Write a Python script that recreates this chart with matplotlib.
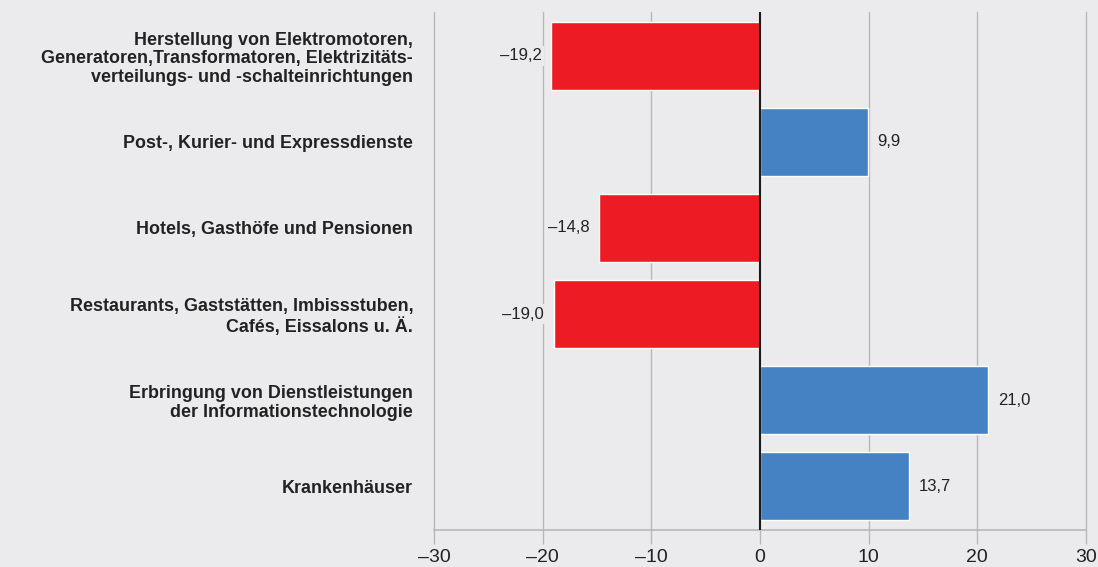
import matplotlib.pyplot as plt
from matplotlib import font_manager

kategorien = [
    "Herstellung von Elektromotoren,\nGeneratoren,Transformatoren, Elektrizitäts-\nverteilungs- und -schalteinrichtungen",
    "Post-, Kurier- und Expressdienste",
    "Hotels, Gasthöfe und Pensionen",
    "Restaurants, Gaststätten, Imbissstuben,\nCafés, Eissalons u. Ä.",
    "Erbringung von Dienstleistungen\nder Informationstechnologie",
    "Krankenhäuser",
]
werte = [-19.2, 9.9, -14.8, -19.0, 21.0, 13.7]
xticks = [-30, -20, -10, 0, 10, 20, 30]

bg = "#ebebed"
rot = "#ed1c24"
blau = "#4582c4"
grau = "#b8b8b8"
textfarbe = "#222222"

narrow = "Liberation Sans Narrow"
names = {f.name for f in font_manager.fontManager.ttflist}
if narrow not in names:
    narrow = "Liberation Sans"

plt.rcParams["font.family"] = ["Liberation Sans", "DejaVu Sans"]

fig = plt.figure(figsize=(10.98, 5.67), dpi=100, facecolor=bg)
ax = fig.add_axes([0.3953, 0.0653, 0.5937, 0.9135], facecolor=bg)

y = list(range(len(werte)))
farben = [rot if v < 0 else blau for v in werte]
ax.barh(y, werte, height=0.79, color=farben, edgecolor="white", linewidth=1, zorder=3)

for x in xticks:
    if x != 0:
        ax.axvline(x, color=grau, lw=1, zorder=1, clip_on=False)
ax.axvline(0, color="#1a1a1a", lw=1.5, zorder=4)

for i, v in enumerate(werte):
    txt = f"{abs(v):.1f}".replace(".", ",")
    if v < 0:
        ax.annotate("\u2013" + txt, (v, i), xytext=(-7, 0), textcoords="offset points",
                    ha="right", va="center", fontsize=12, color=textfarbe, zorder=5,
                    bbox=dict(boxstyle="square,pad=0.15", fc=bg, ec="none"))
    else:
        ax.annotate(txt, (v, i), xytext=(7, 0), textcoords="offset points",
                    ha="left", va="center", fontsize=12, color=textfarbe, zorder=5)

ax.set_xlim(-30, 30)
ax.set_ylim(5.51, -0.51)
ax.set_yticks(y)
ax.set_yticklabels(kategorien, fontsize=12.9, fontweight="bold", color=textfarbe,
                   linespacing=1.13)
ax.tick_params(axis="y", length=0, pad=15)
ax.set_xticks(xticks)
ax.set_xticklabels([str(t).replace("-", "\u2013") for t in xticks], fontsize=14,
                   family=narrow, color=textfarbe)
ax.tick_params(axis="x", length=10, width=1, color=grau, pad=4)

for s in ["top", "right", "left"]:
    ax.spines[s].set_visible(False)
ax.spines["bottom"].set_color(grau)
ax.spines["bottom"].set_linewidth(1.2)

fig.savefig("out.png", dpi=100, facecolor=bg)
